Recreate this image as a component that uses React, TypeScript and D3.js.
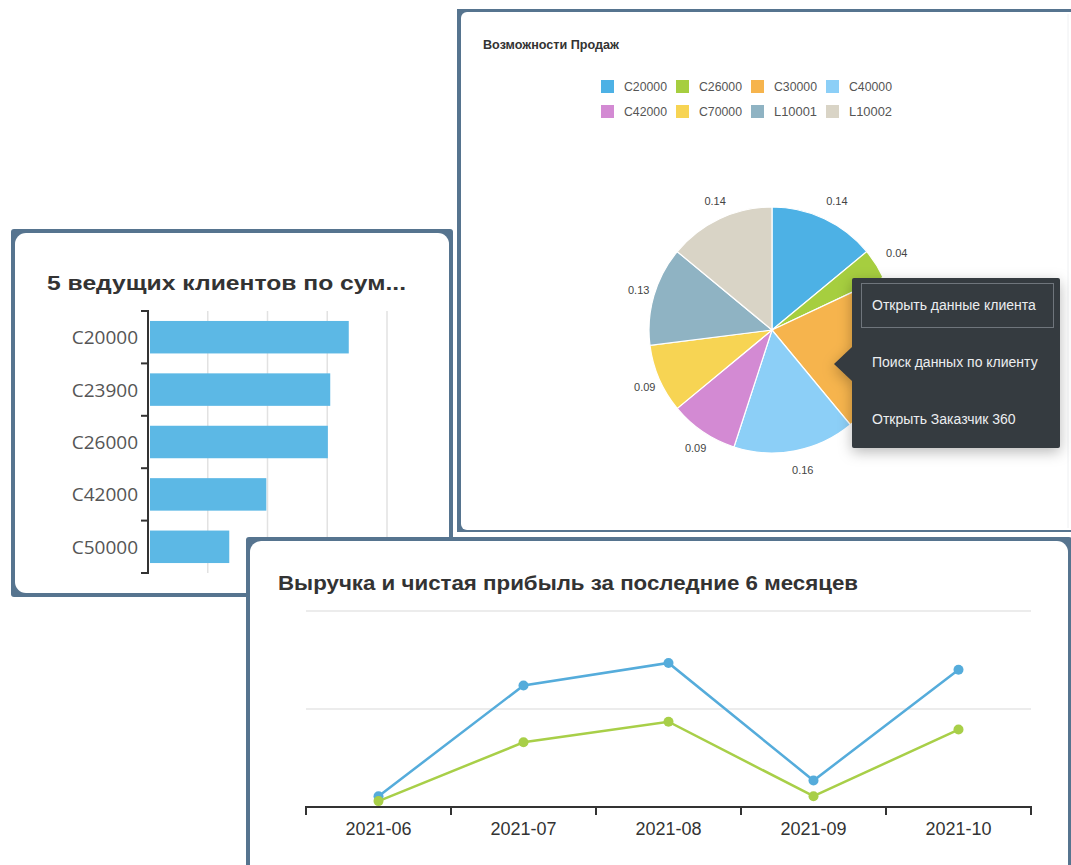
import React from 'react';
import * as d3 from 'd3';

// ---------- Data ----------
const barCategories = ['C20000', 'C23900', 'C26000', 'C42000', 'C50000'];
const barValues = [336, 305, 301, 198, 136];
const barTicks = [100, 200, 300, 400];

const pieCategories = ['C20000', 'C26000', 'C30000', 'C40000', 'C42000', 'C70000', 'L10001', 'L10002'];
const pieValues = [0.14, 0.04, 0.21, 0.16, 0.09, 0.09, 0.13, 0.14];
const pieColors = ['#4db1e5', '#a6ce3f', '#f6b44d', '#8ccff7', '#d38ad3', '#f7d453', '#8fb3c3', '#d9d4c6'];
// the label of the slice under the open menu is hidden in the picture
const pieHiddenLabel = 'C30000';
const menuItems = ['Открыть данные клиента', 'Поиск данных по клиенту', 'Открыть Заказчик 360'];

const months = ['2021-06', '2021-07', '2021-08', '2021-09', '2021-10'];
const revenue = [0.11, 1.24, 1.47, 0.27, 1.40];
const profit = [0.06, 0.66, 0.87, 0.11, 0.79];
const lineTicks = [1, 2];

const FRAME = '#56748f';
const FONT = '"Liberation Sans", Arial, sans-serif';

function Card({ x, y, w, h, rx = 11, t = 4 }: any) {
  return (
    <g>
      <rect x={x} y={y} width={w} height={h} fill={FRAME} rx={3} />
      <rect x={x + t} y={y + t} width={w - 2 * t} height={h - 2 * t} fill="#ffffff" rx={rx} />
    </g>
  );
}

function BarCard() {
  const y = d3.scaleBand<string>().domain(barCategories).range([311, 573]).paddingInner(0.38).paddingOuter(0.19);
  const x = d3.scaleLinear().domain([0, 400]).range([148, 387]);
  const step = y.step();
  const edges = d3.range(barCategories.length + 1).map((i) => 311 + i * step);
  return (
    <g>
      <Card x={11} y={229} w={442} h={368} />
      <text x={47} y={290} fontFamily={FONT} fontWeight="bold" fontSize={21} fill="#333" textLength={359} lengthAdjust="spacingAndGlyphs">
        5 ведущих клиентов по сум...
      </text>
      {barTicks.map((t) => (
        <line key={t} x1={x(t)} x2={x(t)} y1={311} y2={573} stroke="#e2e2e2" strokeWidth={1.5} />
      ))}
      {barCategories.map((c, i) => (
        <rect key={c} x={x(0) + 2} y={y(c)!} width={x(barValues[i]) - x(0) - 2} height={y.bandwidth()} fill="#5cb8e5" />
      ))}
      <line x1={148} x2={148} y1={311} y2={573} stroke="#333" strokeWidth={2} />
      {edges.map((e, i) => (
        <line key={i} x1={141} x2={149} y1={e} y2={e} stroke="#333" strokeWidth={2} />
      ))}
      {barCategories.map((c) => (
        <text key={c} x={138} y={y(c)! + y.bandwidth() / 2 + 7} textAnchor="end" fontFamily='"Open Sans", "Noto Sans", sans-serif' fontSize={19} fill="#555">
          {c}
        </text>
      ))}
    </g>
  );
}

function PieCard() {
  const cx = 772, cy = 330, r = 123;
  const arcs = d3.pie<number>().sort(null).value((d) => d)(pieValues);
  const arc = d3.arc<d3.PieArcDatum<number>>().innerRadius(0).outerRadius(r);
  const labelArc = d3.arc<d3.PieArcDatum<number>>().innerRadius(143).outerRadius(143);
  const legendX = [601, 676, 751, 826];
  const legendY = [87, 112];
  return (
    <g>
      <rect x={457} y={9} width={620} height={523} fill={FRAME} />
      <rect x={461} y={12} width={620} height={518} fill="#ffffff" rx={6} />
      <line x1={1068} x2={1068} y1={14} y2={528} stroke="#eef0f2" strokeWidth={1} />
      <text x={483} y={49} fontFamily={FONT} fontWeight="bold" fontSize={13} fill="#333" textLength={136} lengthAdjust="spacingAndGlyphs">Возможности Продаж</text>
      {pieCategories.map((c, i) => {
        const lx = legendX[i % 4];
        const ly = legendY[Math.floor(i / 4)];
        return (
          <g key={c}>
            <rect x={lx} y={ly - 7} width={13} height={13} fill={pieColors[i]} />
            <text x={lx + 23} y={ly + 4} fontFamily={FONT} fontSize={12} fill="#555" textLength={43} lengthAdjust="spacingAndGlyphs">{c}</text>
          </g>
        );
      })}
      <g transform={`translate(${cx},${cy})`}>
        {arcs.map((a, i) => (
          <path key={i} d={arc(a)!} fill={pieColors[i]} stroke="#ffffff" strokeWidth={1.2} />
        ))}
        {arcs.map((a, i) => {
          if (pieCategories[i] === pieHiddenLabel) return null;
          const [lx, ly] = labelArc.centroid(a);
          return (
            <text key={'l' + i} x={lx + 4} y={ly + 4} textAnchor="middle" fontFamily={FONT} fontSize={11} fill="#444">
              {d3.format('.2f')(pieValues[i])}
            </text>
          );
        })}
      </g>
      <defs>
        <filter id="tipShadow" x="-30%" y="-30%" width="160%" height="160%">
          <feDropShadow dx="0" dy="4" stdDeviation="7" floodColor="#000" floodOpacity="0.28" />
        </filter>
      </defs>
      <g filter="url(#tipShadow)">
        <rect x={852} y={278} width={208} height={170} fill="#353a40" rx={2} />
        <path d="M852,347 L834,364 L852,381 Z" fill="#353a40" />
      </g>
      <rect x={861.5} y={283.5} width={192} height={44} fill="none" stroke="#6f757c" strokeWidth={1} />
      {menuItems.map((m, i) => (
        <text key={m} x={872} y={310 + i * 57} fontFamily={FONT} fontSize={14} fill="#eceef0">{m}</text>
      ))}
    </g>
  );
}

function LineCard() {
  const x = d3.scaleBand<string>().domain(months).range([306, 1031]);
  const y = d3.scaleLinear().domain([0, 2]).range([807, 611]);
  const px = (m: string) => x(m)! + x.bandwidth() / 2;
  const line = d3.line<number>().x((_, i) => px(months[i])).y((d) => y(d));
  const edges = d3.range(months.length + 1).map((i) => 306 + i * x.step());
  return (
    <g>
      <rect x={246} y={537} width={826} height={340} fill={FRAME} rx={3} />
      <rect x={250} y={541} width={818} height={340} fill="#ffffff" rx={11} />
      <text x={278} y={590} fontFamily={FONT} fontWeight="bold" fontSize={20} fill="#333" textLength={580} lengthAdjust="spacingAndGlyphs">
        Выручка и чистая прибыль за последние 6 месяцев
      </text>
      {lineTicks.map((t) => (
        <line key={t} x1={306} x2={1031} y1={y(t)} y2={y(t)} stroke="#d9d9d9" strokeWidth={1.2} />
      ))}
      <line x1={306} x2={1032} y1={807} y2={807} stroke="#333" strokeWidth={2} />
      {edges.map((e, i) => (
        <line key={i} x1={e} x2={e} y1={806} y2={815} stroke="#333" strokeWidth={2} />
      ))}
      {months.map((m) => (
        <text key={m} x={px(m)} y={835} textAnchor="middle" fontFamily={FONT} fontSize={18} fill="#333">{m}</text>
      ))}
      <path d={line(revenue)!} fill="none" stroke="#55acdb" strokeWidth={2.5} />
      <path d={line(profit)!} fill="none" stroke="#a8cf48" strokeWidth={2.5} />
      {revenue.map((v, i) => (
        <circle key={'r' + i} cx={px(months[i])} cy={y(v)} r={5} fill="#55acdb" />
      ))}
      {profit.map((v, i) => (
        <circle key={'p' + i} cx={px(months[i])} cy={y(v)} r={5} fill="#a8cf48" />
      ))}
    </g>
  );
}

export default function App() {
  return (
    <svg width={1071} height={865} style={{ position: 'absolute', left: 0, top: 0, background: '#fff' }}>
      <rect x={0} y={0} width={1071} height={865} fill="#ffffff" />
      <BarCard />
      <PieCard />
      <LineCard />
    </svg>
  );
}
